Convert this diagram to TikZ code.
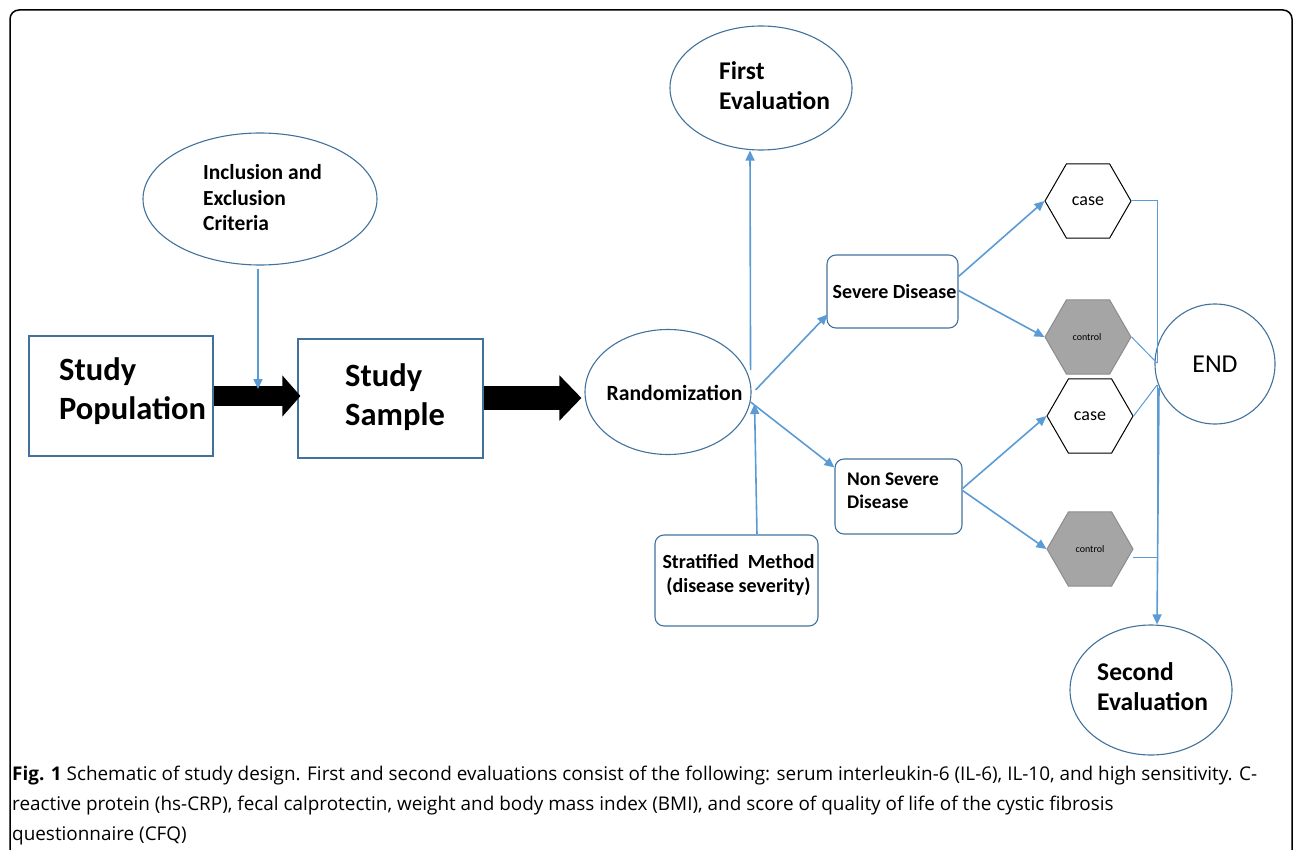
\documentclass[tikz,border=0pt]{standalone}
\usepackage{fontspec}
\setmainfont{Carlito}
\newfontfamily\capfont{Open Sans}
\usetikzlibrary{shapes.geometric,arrows.meta,calc}
\definecolor{edgeblue}{HTML}{41719C}
\definecolor{arrblue}{HTML}{5B9BD5}
\definecolor{ctlgray}{HTML}{A5A5A5}
\definecolor{ctledge}{HTML}{8C8C8C}
\begin{document}
\begin{tikzpicture}[x=1pt,y=-1pt,
  ell/.style={ellipse,draw=edgeblue,line width=1.1pt,inner sep=0pt},
  sqbox/.style={rectangle,draw=edgeblue,line width=1.1pt,inner sep=0pt},
  rbox/.style={rectangle,rounded corners=9pt,draw=edgeblue,line width=1.1pt,inner sep=0pt},
  hexcase/.style={regular polygon,regular polygon sides=6,minimum size=86pt,inner sep=0pt,draw=black,line width=1pt,fill=white},
  hexctl/.style={regular polygon,regular polygon sides=6,minimum size=86pt,inner sep=0pt,draw=ctledge,line width=1pt,fill=ctlgray},
  arr/.style={draw=arrblue,line width=1.6pt,-{Triangle[length=10pt,width=9pt]}},
  thin/.style={draw=arrblue,line width=1pt},
  lbl/.style={font=\bfseries,align=left,inner sep=0pt},
  captxt/.style={font=\capfont\fontsize{18.9}{30}\selectfont,anchor=base west,inner sep=0pt},
]
\useasboundingbox (0,0) rectangle (1295,850);
\draw[black,line width=1.5pt,rounded corners=9pt] (10,10) rectangle (1292,890);

% nodes
\node[ell,minimum width=234pt,minimum height=132pt] (inc) at (260,199) {};
\node[lbl,font=\bfseries\fontsize{21.5}{25.5}\selectfont,anchor=west] (inct) at (203,198) {Inclusion and\\Exclusion\\Criteria};
\node[sqbox,minimum width=184pt,minimum height=120pt] (sp) at (121,396) {};
\node[lbl,font=\bfseries\fontsize{32.5}{39}\selectfont,anchor=west] (spt) at (59,391) {Study\\Population};
\node[sqbox,minimum width=185pt,minimum height=119pt] (ss) at (390.5,398.5) {};
\node[lbl,font=\bfseries\fontsize{32.5}{39}\selectfont,anchor=west] (sst) at (345,397) {Study\\Sample};
\node[ell,minimum width=166pt,minimum height=125pt] (rand) at (668,392) {};
\node[lbl,font=\bfseries\fontsize{21.7}{24}\selectfont] (randt) at (674.5,393) {Randomization};
\node[ell,minimum width=182pt,minimum height=124pt] (fe) at (761,88) {};
\node[lbl,font=\bfseries\fontsize{25.5}{30}\selectfont,anchor=west] (fet) at (719,86) {First\\Evaluation};
\node[rbox,minimum width=131pt,minimum height=73pt] (sev) at (892.5,291.5) {};
\node[lbl,font=\bfseries\fontsize{20}{23}\selectfont] (sevt) at (894.5,292) {Severe Disease};
\node[rbox,minimum width=127pt,minimum height=75pt] (ns) at (898.5,496.5) {};
\node[lbl,font=\bfseries\fontsize{19.3}{23}\selectfont,anchor=west] (nst) at (847,491) {Non Severe\\Disease};
\node[rbox,minimum width=163pt,minimum height=91pt] (strat) at (736.5,580.5) {};
\node[lbl,font=\bfseries\fontsize{20}{24}\selectfont,align=center] (stratt) at (738.5,575) {Stratified\ \ Method\\(disease severity)};
\node[hexcase] (case1) at (1088,201) {};
\node[font=\fontsize{18}{20}\selectfont] at (1088,201) {case};
\node[hexctl] (ctl1) at (1088,337) {};
\node[font=\fontsize{10}{12}\selectfont] at (1087,337) {control};
\node[hexcase] (case2) at (1090,416) {};
\node[font=\fontsize{18}{20}\selectfont] at (1090,416) {case};
\node[hexctl] (ctl2) at (1090,549) {};
\node[font=\fontsize{10}{12}\selectfont] at (1090,549) {control};
\node[circle,draw=edgeblue,line width=1.1pt,minimum size=120pt,inner sep=0pt,font=\fontsize{25.8}{28}\selectfont] (end) at (1215,364) {END};
\node[ell,minimum width=162pt,minimum height=130pt] (se) at (1151,690) {};
\node[lbl,font=\bfseries\fontsize{25.5}{30}\selectfont,anchor=west] (set) at (1097,687) {Second\\Evaluation};

% big black arrows
\draw[line width=20pt,-{Triangle[length=18pt,width=40pt]}] (sp.east) -- ($(ss.west)+(3,-2.5)$);
\draw[line width=24pt,-{Triangle[length=22pt,width=44pt]}] ($(ss.east)+(0,-0.5)$) -- ($(rand.west)+(-3,6)$);

% blue connectors
\coordinate (incend) at (258,389);
\draw[arr] ($(inc.south)+(-2,3)$) -- (incend);
\draw[arr] ($(rand.east)+(-1,-22)$) -- ($(fe.south)+(-11,0)$);
\draw[arr] ($(rand.east)+(4,-2)$) -- ($(sev.south west)+(1,-14)$);
\draw[arr] ($(rand.east)+(-1,10)$) -- ($(ns.north west)+(0,9)$);
\draw[arr] ($(strat.north)+(20.5,0)$) -- ($(rand.east)+(3,12)$);
\draw[arr] ($(sev.east)+(0,-15)$) -- (case1.west);
\draw[arr] ($(sev.east)+(0,-1)$) -- (ctl1.west);
\draw[arr] ($(ns.east)+(0,-8)$) -- (case2.west);
\draw[arr] ($(ns.east)+(0,-6)$) -- (ctl2.west);

% to END
\coordinate (ja) at (1157,363);
\coordinate (jb) at (1157,385);
\draw[thin] (case1.east) -- (case1.east -| ja) -- (ja);
\draw[thin] (ctl1.east) -- (ja);
\draw[thin] (case2.east) -- (jb);
\draw[thin] ($(ctl2.east)+(-1,8)$) -- ($(ctl2.east -| jb)+(0,8)$) -- (jb);
\draw[arr] (1159,388) -- ($(se.north)+(6,0)$);

% caption
\node[captxt] (cap1) at (12,780) {\textbf{Fig. 1} Schematic of study design. First and second evaluations consist of the following: serum interleukin-6 (IL-6), IL-10, and high sensitivity. C-};
\node[captxt] (cap2) at (12,810) {reactive protein (hs-CRP), fecal calprotectin, weight and body mass index (BMI), and score of quality of life of the cystic fibrosis};
\node[captxt] (cap3) at (12,840) {questionnaire (CFQ)};
\end{tikzpicture}
\end{document}
